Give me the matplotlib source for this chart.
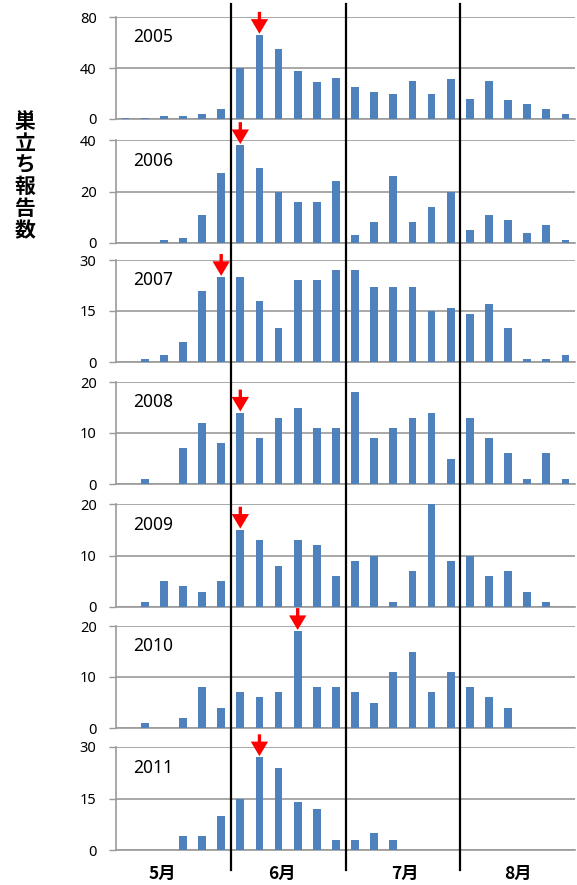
import matplotlib
matplotlib.use('Agg')
import matplotlib.pyplot as plt
from matplotlib.lines import Line2D
from matplotlib.transforms import blended_transform_factory

# ---------------- data ----------------
years = ['2005', '2006', '2007', '2008', '2009', '2010', '2011']
counts_2005 = [1, 1, 2, 2, 4, 8, 40, 66, 55, 38, 29, 32, 25, 21, 20, 30, 20, 31, 16, 30, 15, 12, 8, 4]
counts_2006 = [0, 0, 1, 2, 11, 27, 38, 29, 20, 16, 16, 24, 3, 8, 26, 8, 14, 20, 5, 11, 9, 4, 7, 1]
counts_2007 = [0, 1, 2, 6, 21, 25, 25, 18, 10, 24, 24, 27, 27, 22, 22, 22, 15, 16, 14, 17, 10, 1, 1, 2]
counts_2008 = [0, 1, 0, 7, 12, 8, 14, 9, 13, 15, 11, 11, 18, 9, 11, 13, 14, 5, 13, 9, 6, 1, 6, 1]
counts_2009 = [0, 1, 5, 4, 3, 5, 15, 13, 8, 13, 12, 6, 9, 10, 1, 7, 20, 9, 10, 6, 7, 3, 1, 0]
counts_2010 = [0, 1, 0, 2, 8, 4, 7, 6, 7, 19, 8, 8, 7, 5, 11, 15, 7, 11, 8, 6, 4, 0, 0, 0]
counts_2011 = [0, 0, 0, 4, 4, 10, 15, 27, 24, 14, 12, 3, 3, 5, 3, 0, 0, 0, 0, 0, 0, 0, 0, 0]
all_counts = [counts_2005, counts_2006, counts_2007, counts_2008,
              counts_2009, counts_2010, counts_2011]
y_max = [80, 40, 30, 20, 20, 20, 30]
y_ticks = [[0, 40, 80], [0, 20, 40], [0, 15, 30], [0, 10, 20],
           [0, 10, 20], [0, 10, 20], [0, 15, 30]]
peak_bin = [7, 6, 5, 6, 6, 9, 7]          # bin marked with the red arrow
month_labels = ['5月', '6月', '7月', '8月']
bins_per_month = 6
y_label = '巣立ち報告数'

# ---------------- layout ----------------
W, H = 577, 885
panel_px = [(17, 119), (140, 243), (260, 362), (382, 484),
            (504, 607), (626, 728), (747, 850)]
left_px, right_px = 116, 575
month_label_x = [1.9, 8.2, 14.6, 20.5]
bar_color = '#4F81BD'
grid_color = '#9A9A9A'
CJK = ['Noto Sans CJK JP', 'DejaVu Sans']

fig = plt.figure(figsize=(W / 100, H / 100), dpi=100)

axes = []
nb = len(counts_2005)
for k, (yr, cnt) in enumerate(zip(years, all_counts)):
    top, bot = panel_px[k]
    ax = fig.add_axes([left_px / W, 1 - bot / H, (right_px - left_px) / W, (bot - top) / H])
    ax.set_facecolor('none')
    x = list(range(nb))
    ax.bar(x, cnt, width=0.4, color=bar_color, zorder=3)
    ax.set_xlim(-0.5, nb - 0.5)
    ax.set_ylim(0, y_max[k])
    ax.set_yticks(y_ticks[k])
    ax.set_yticklabels([str(t) for t in y_ticks[k]], fontsize=10.5, family='Noto Sans')
    ax.tick_params(axis='y', length=5, width=1, color=grid_color, pad=9)
    ax.yaxis.grid(True, color=grid_color, linewidth=1.2, zorder=0)
    ax.set_axisbelow(True)
    for s in ['top', 'right']:
        ax.spines[s].set_visible(False)
    ax.spines['left'].set_color(grid_color)
    ax.spines['left'].set_linewidth(1.2)
    ax.spines['bottom'].set_color(grid_color)
    ax.spines['bottom'].set_linewidth(1.2)
    ax.set_xticks([])
    ax.text(0.038, 0.80, yr, transform=ax.transAxes, fontsize=12.5,
            family='Noto Sans', ha='left', va='center')
    # red arrow above the peak bar
    pb = peak_bin[k]
    ax.annotate('', xy=(pb, cnt[pb]), xytext=(0, 23), textcoords='offset pixels',
                annotation_clip=False,
                arrowprops=dict(arrowstyle='simple,head_length=1.05,head_width=1.25,tail_width=0.24',
                                mutation_scale=10, fc='#FF0000', ec='none',
                                shrinkA=0, shrinkB=0.8),
                zorder=10)
    axes.append(ax)

ax_last = axes[-1]
ax_last.set_xticks(month_label_x)
ax_last.set_xticklabels(month_labels, fontsize=12.5, family=CJK, fontweight='bold')
ax_last.tick_params(axis='x', length=0, pad=11)

# month boundary lines across all panels
trans = blended_transform_factory(ax_last.transData, fig.transFigure)
for m in range(1, len(month_labels)):
    xb = m * bins_per_month - 0.5
    fig.add_artist(Line2D([xb, xb], [1 - 870 / H, 1 - 4 / H], transform=trans,
                          color='black', linewidth=1.6, zorder=20))

fig.text(25 / W, 1 - 176 / H, '\n'.join(y_label), ha='center', va='center',
         fontsize=15, family=CJK, fontweight='bold', linespacing=1.05)

fig.savefig('out.png', dpi=100)
